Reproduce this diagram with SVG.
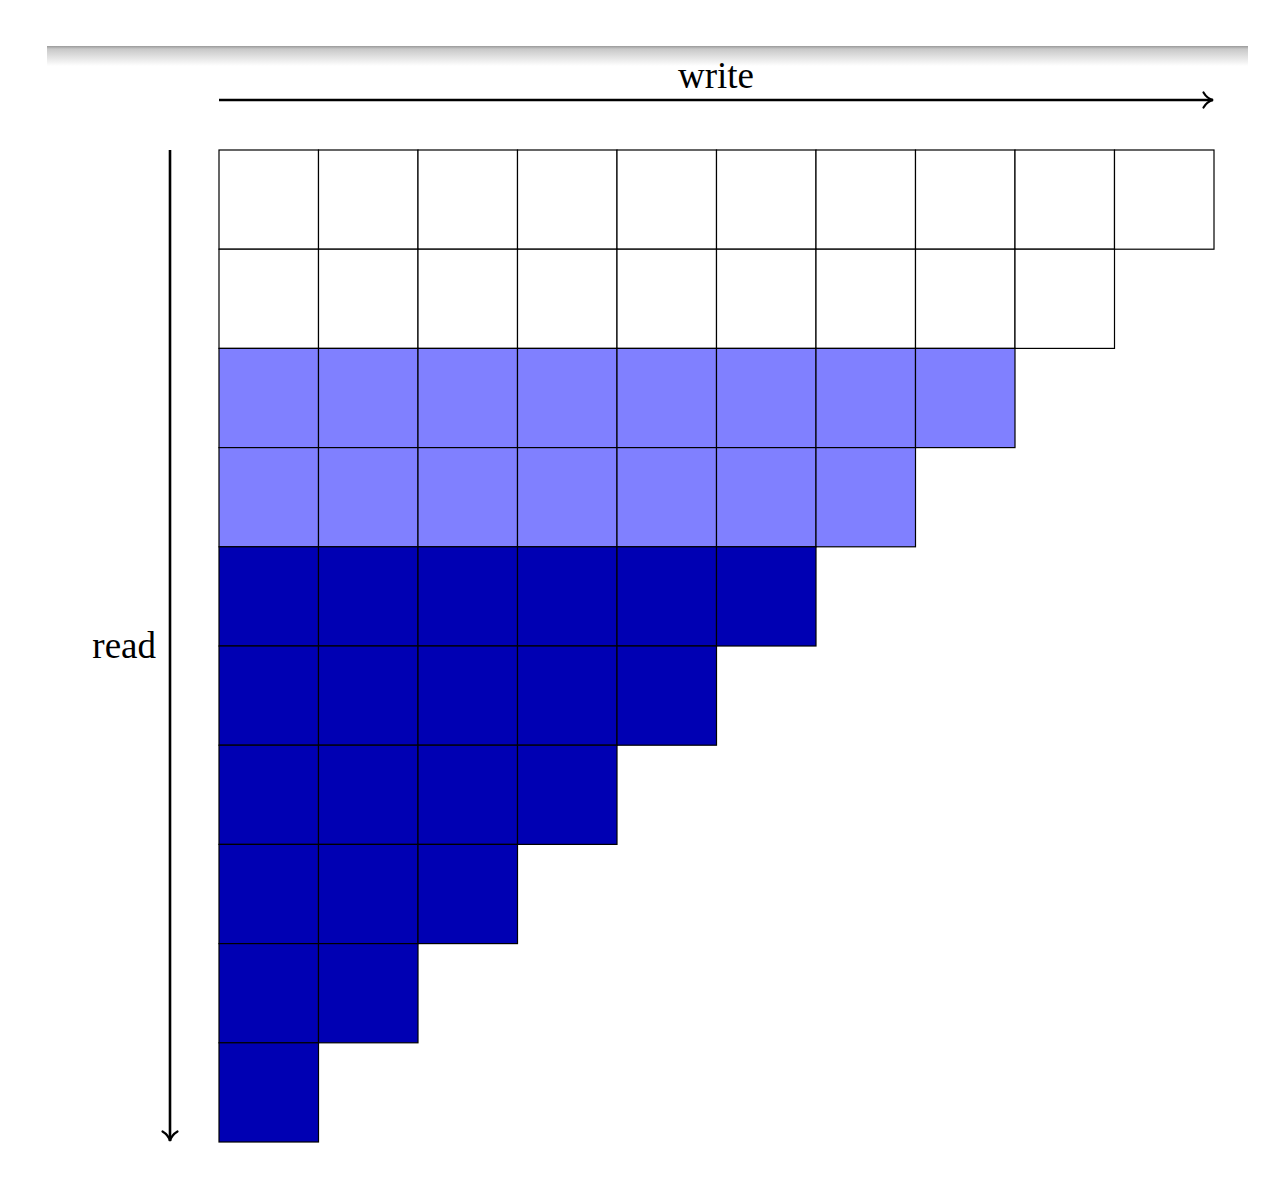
<svg xmlns="http://www.w3.org/2000/svg" width="1283" height="1189" viewBox="0 0 1283 1189">
<defs>
<linearGradient id="band" x1="0" y1="0" x2="0" y2="1">
<stop offset="0" stop-color="#9a9a9a"/>
<stop offset="0.15" stop-color="#c8c8c8"/>
<stop offset="1" stop-color="#ffffff"/>
</linearGradient>
<marker id="arr" viewBox="0 0 20 20" refX="16" refY="10" markerWidth="20" markerHeight="20" markerUnits="userSpaceOnUse" orient="auto">
<path d="M6.5,2.5 Q10,8.5 16,10 Q10,11.5 6.5,17.5" fill="none" stroke="#000" stroke-width="2.2" stroke-linecap="round"/>
</marker>
<style>
.w{fill:#ffffff;stroke:#000;stroke-width:1.2}
.l{fill:#8080ff;stroke:#000;stroke-width:1.2}
.d{fill:#0000b3;stroke:#000;stroke-width:1.2}
.ax{stroke:#000;stroke-width:2.6;fill:none}
.t{font-family:"Liberation Serif","DejaVu Serif",serif;font-size:37px;fill:#000}
</style>
</defs>
<rect width="1283" height="1189" fill="#fff"/>
<rect x="47" y="46" width="1201" height="20" fill="url(#band)"/>
<g id="connectors">
<line class="ax" x1="219" y1="100" x2="1213" y2="100" marker-end="url(#arr)"/>
<line class="ax" x1="170" y1="150" x2="170" y2="1141" marker-end="url(#arr)"/>
</g>
<text id="write" class="t" x="716" y="88" text-anchor="middle">write</text>
<text id="read" class="t" x="156" y="658" text-anchor="end">read</text>
<g id="grid">
<g id="row0">
<rect class="w" x="219" y="150" width="99.5" height="99.2"/>
<rect class="w" x="318.5" y="150" width="99.5" height="99.2"/>
<rect class="w" x="418" y="150" width="99.5" height="99.2"/>
<rect class="w" x="517.5" y="150" width="99.5" height="99.2"/>
<rect class="w" x="617" y="150" width="99.5" height="99.2"/>
<rect class="w" x="716.5" y="150" width="99.5" height="99.2"/>
<rect class="w" x="816" y="150" width="99.5" height="99.2"/>
<rect class="w" x="915.5" y="150" width="99.5" height="99.2"/>
<rect class="w" x="1015" y="150" width="99.5" height="99.2"/>
<rect class="w" x="1114.5" y="150" width="99.5" height="99.2"/>
</g>
<g id="row1">
<rect class="w" x="219" y="249.2" width="99.5" height="99.2"/>
<rect class="w" x="318.5" y="249.2" width="99.5" height="99.2"/>
<rect class="w" x="418" y="249.2" width="99.5" height="99.2"/>
<rect class="w" x="517.5" y="249.2" width="99.5" height="99.2"/>
<rect class="w" x="617" y="249.2" width="99.5" height="99.2"/>
<rect class="w" x="716.5" y="249.2" width="99.5" height="99.2"/>
<rect class="w" x="816" y="249.2" width="99.5" height="99.2"/>
<rect class="w" x="915.5" y="249.2" width="99.5" height="99.2"/>
<rect class="w" x="1015" y="249.2" width="99.5" height="99.2"/>
</g>
<g id="row2">
<rect class="l" x="219" y="348.4" width="99.5" height="99.2"/>
<rect class="l" x="318.5" y="348.4" width="99.5" height="99.2"/>
<rect class="l" x="418" y="348.4" width="99.5" height="99.2"/>
<rect class="l" x="517.5" y="348.4" width="99.5" height="99.2"/>
<rect class="l" x="617" y="348.4" width="99.5" height="99.2"/>
<rect class="l" x="716.5" y="348.4" width="99.5" height="99.2"/>
<rect class="l" x="816" y="348.4" width="99.5" height="99.2"/>
<rect class="l" x="915.5" y="348.4" width="99.5" height="99.2"/>
</g>
<g id="row3">
<rect class="l" x="219" y="447.6" width="99.5" height="99.2"/>
<rect class="l" x="318.5" y="447.6" width="99.5" height="99.2"/>
<rect class="l" x="418" y="447.6" width="99.5" height="99.2"/>
<rect class="l" x="517.5" y="447.6" width="99.5" height="99.2"/>
<rect class="l" x="617" y="447.6" width="99.5" height="99.2"/>
<rect class="l" x="716.5" y="447.6" width="99.5" height="99.2"/>
<rect class="l" x="816" y="447.6" width="99.5" height="99.2"/>
</g>
<g id="row4">
<rect class="d" x="219" y="546.8" width="99.5" height="99.2"/>
<rect class="d" x="318.5" y="546.8" width="99.5" height="99.2"/>
<rect class="d" x="418" y="546.8" width="99.5" height="99.2"/>
<rect class="d" x="517.5" y="546.8" width="99.5" height="99.2"/>
<rect class="d" x="617" y="546.8" width="99.5" height="99.2"/>
<rect class="d" x="716.5" y="546.8" width="99.5" height="99.2"/>
</g>
<g id="row5">
<rect class="d" x="219" y="646" width="99.5" height="99.2"/>
<rect class="d" x="318.5" y="646" width="99.5" height="99.2"/>
<rect class="d" x="418" y="646" width="99.5" height="99.2"/>
<rect class="d" x="517.5" y="646" width="99.5" height="99.2"/>
<rect class="d" x="617" y="646" width="99.5" height="99.2"/>
</g>
<g id="row6">
<rect class="d" x="219" y="745.2" width="99.5" height="99.2"/>
<rect class="d" x="318.5" y="745.2" width="99.5" height="99.2"/>
<rect class="d" x="418" y="745.2" width="99.5" height="99.2"/>
<rect class="d" x="517.5" y="745.2" width="99.5" height="99.2"/>
</g>
<g id="row7">
<rect class="d" x="219" y="844.4" width="99.5" height="99.2"/>
<rect class="d" x="318.5" y="844.4" width="99.5" height="99.2"/>
<rect class="d" x="418" y="844.4" width="99.5" height="99.2"/>
</g>
<g id="row8">
<rect class="d" x="219" y="943.6" width="99.5" height="99.2"/>
<rect class="d" x="318.5" y="943.6" width="99.5" height="99.2"/>
</g>
<g id="row9">
<rect class="d" x="219" y="1042.8" width="99.5" height="99.2"/>
</g>
</g>
</svg>
